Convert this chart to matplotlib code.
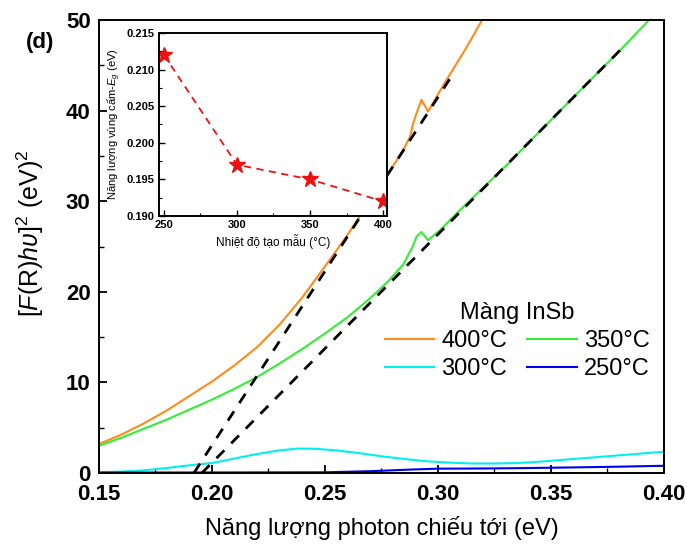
import matplotlib
matplotlib.use('Agg')
import matplotlib.pyplot as plt
from matplotlib.ticker import MultipleLocator, FormatStrFormatter

plt.rcParams['font.family'] = ['Liberation Sans', 'DejaVu Sans']
plt.rcParams['mathtext.fontset'] = 'custom'
plt.rcParams['mathtext.rm'] = 'Liberation Sans'
plt.rcParams['mathtext.it'] = 'Liberation Sans:italic'
plt.rcParams['mathtext.bf'] = 'Liberation Sans:bold'

# 400 C film (orange)
x_400 = [0.150, 0.160, 0.170, 0.180, 0.190, 0.200, 0.210, 0.220, 0.230, 0.240,
         0.250, 0.260, 0.270, 0.2773, 0.2845, 0.2876, 0.289, 0.2905, 0.2927, 0.2956,
         0.300, 0.3038, 0.3127, 0.3195]
y_400 = [3.2, 4.25, 5.5, 6.9, 8.5, 10.1, 11.9, 13.9, 16.4, 19.4,
         22.8, 26.3, 30.1, 32.8, 35.6, 37.1, 38.6, 39.7, 41.2, 39.9,
         41.8, 43.4, 47.0, 50.0]

# 350 C film (green)
x_350 = [0.150, 0.160, 0.170, 0.180, 0.190, 0.200, 0.210, 0.220, 0.230, 0.240,
         0.250, 0.260, 0.270, 0.2773, 0.2846, 0.289, 0.2905, 0.2927, 0.2956, 0.3009,
         0.3097, 0.330, 0.360, 0.380, 0.3934]
y_350 = [3.0, 3.9, 4.9, 5.9, 7.0, 8.1, 9.3, 10.6, 12.1, 13.7,
         15.4, 17.2, 19.3, 21.0, 23.0, 25.1, 26.1, 26.6, 25.7, 26.8,
         29.0, 33.9, 41.5, 46.5, 50.0]

# 300 C film (cyan)
x_300 = [0.150, 0.160, 0.170, 0.180, 0.190, 0.200, 0.210, 0.220, 0.230, 0.238,
         0.245, 0.255, 0.265, 0.275, 0.285, 0.295, 0.305, 0.315, 0.325, 0.335,
         0.345, 0.355, 0.365, 0.375, 0.385, 0.400]
y_300 = [0.10, 0.15, 0.30, 0.55, 0.85, 1.10, 1.60, 2.10, 2.50, 2.70,
         2.68, 2.50, 2.20, 1.85, 1.55, 1.30, 1.15, 1.05, 1.05, 1.10,
         1.25, 1.45, 1.65, 1.85, 2.05, 2.35]

# 250 C film (blue)
x_250 = [0.150, 0.200, 0.250, 0.270, 0.290, 0.300, 0.320, 0.340, 0.360, 0.380, 0.400]
y_250 = [0.05, 0.06, 0.08, 0.20, 0.40, 0.48, 0.50, 0.55, 0.62, 0.70, 0.80]

# linear fits (Tauc extrapolation)
tan_400_x = [0.192, 0.3055]
tan_400_y = [0.0, 43.6]
tan_350_x = [0.1955, 0.3835]
tan_350_y = [0.0, 47.4]

# inset: band gap vs temperature
temps = [250, 300, 350, 400]
gaps = [0.212, 0.197, 0.195, 0.192]

fig = plt.figure(figsize=(6.87, 5.49), dpi=100)
ax = fig.add_axes([0.1441, 0.1384, 0.8224, 0.8252])

ax.plot(x_400, y_400, color='#ff8c1a', lw=1.5, label='400°C')
ax.plot(x_300, y_300, color='#00f0f0', lw=1.5, label='300°C')
ax.plot(x_350, y_350, color='#33ee33', lw=1.5, label='350°C')
ax.plot(x_250, y_250, color='#0000ee', lw=1.5, label='250°C')
ax.plot(tan_400_x, tan_400_y, color='black', lw=2, ls=(0, (4, 3.5)))
ax.plot(tan_350_x, tan_350_y, color='black', lw=2, ls=(0, (4, 3.5)))

ax.set_xlim(0.15, 0.40)
ax.set_ylim(0, 50)
ax.xaxis.set_major_locator(MultipleLocator(0.05))
ax.xaxis.set_minor_locator(MultipleLocator(0.025))
ax.yaxis.set_major_locator(MultipleLocator(10))
ax.yaxis.set_minor_locator(MultipleLocator(5))
ax.xaxis.set_major_formatter(FormatStrFormatter('%.2f'))
ax.tick_params(which='both', direction='in', top=False, right=False)
ax.tick_params(which='major', length=6, width=1.3, labelsize=16)
ax.tick_params(axis='x', which='major', pad=8)
ax.tick_params(axis='y', which='major', pad=6)
ax.tick_params(which='minor', length=3.5, width=1.0)
for lbl in ax.get_xticklabels() + ax.get_yticklabels():
    lbl.set_fontweight('bold')
for sp in ax.spines.values():
    sp.set_linewidth(1.4)

ax.set_xlabel('Năng lượng photon chiếu tới (eV)', fontsize=17, labelpad=8)
ax.set_ylabel(r'[$\mathit{F}$(R)$\mathit{h\upsilon}$]$^2$ (eV)$^2$', fontsize=18)
ax.yaxis.set_label_coords(-0.094, 0.53)
fig.text(0.037, 0.912, '(d)', fontsize=16, fontweight='bold')

handles, labels = ax.get_legend_handles_labels()
leg = ax.legend(handles, labels, ncol=2, frameon=False, fontsize=17,
                title='Màng InSb', title_fontsize=17,
                loc='upper center', bbox_to_anchor=(0.74, 0.425),
                handlelength=2.1, handletextpad=0.3, columnspacing=0.85,
                labelspacing=0.27)

# inset
ins = fig.add_axes([0.2314, 0.6066, 0.3319, 0.3333])
ins.plot(temps, gaps, color='#ee1111', ls=(0, (4, 3)), lw=1.3,
         marker='*', markersize=12, markerfacecolor='#ee1111', markeredgecolor='#ee1111')
ins.set_xlim(246.6, 402.7)
ins.set_ylim(0.190, 0.215)
ins.xaxis.set_major_locator(MultipleLocator(50))
ins.xaxis.set_minor_locator(MultipleLocator(25))
ins.yaxis.set_major_locator(MultipleLocator(0.005))
ins.yaxis.set_minor_locator(MultipleLocator(0.0025))
ins.yaxis.set_major_formatter(FormatStrFormatter('%.3f'))
ins.tick_params(which='both', direction='in', top=False, right=False)
ins.tick_params(which='major', length=4, width=1.0, labelsize=8, pad=3)
ins.tick_params(which='minor', length=2, width=0.8)
for lbl in ins.get_xticklabels() + ins.get_yticklabels():
    lbl.set_fontweight('bold')
for sp in ins.spines.values():
    sp.set_linewidth(1.4)
ins.set_xlabel('Nhiệt độ tạo mẫu (°C)', fontsize=8.5, labelpad=3)
ins.set_ylabel(r'Năng lượng vùng cấm-$\mathit{E}_g$ (eV)', fontsize=8, labelpad=3)

fig.savefig('out.png', dpi=100)
